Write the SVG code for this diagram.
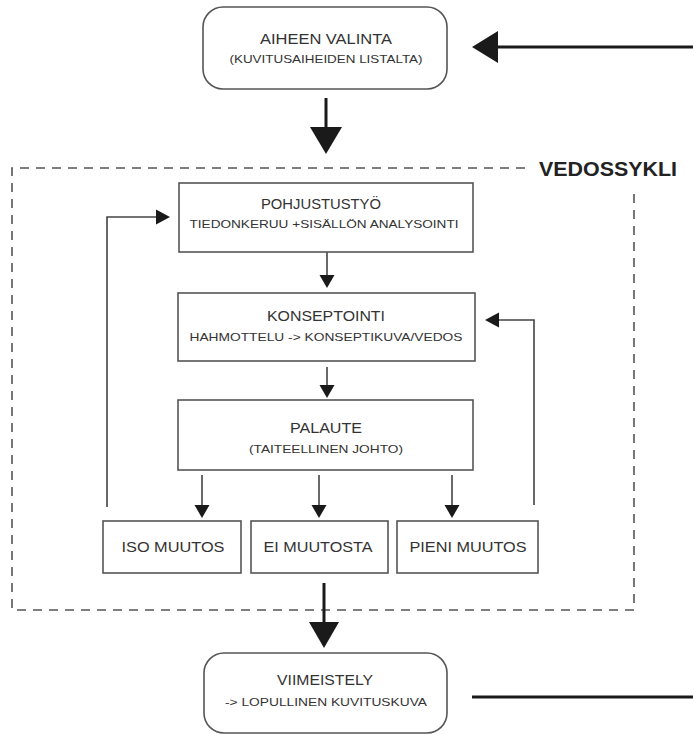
<svg xmlns="http://www.w3.org/2000/svg" width="693" height="734" viewBox="0 0 693 734">
<defs>
<style>
.box{fill:#fff;stroke:#555;stroke-width:1.6}
.t{font-family:"Liberation Sans",Arial,sans-serif;font-size:14.5px;fill:#333;text-anchor:middle}
.s{font-family:"Liberation Sans",Arial,sans-serif;font-size:11px;fill:#333;text-anchor:middle}
.thin{fill:none;stroke:#444;stroke-width:1.6}
.bold{fill:none;stroke:#1a1a1a;stroke-width:3}
.head{fill:#1a1a1a}
.dash{fill:none;stroke:#555;stroke-width:1.6;stroke-dasharray:9 7}
</style>
</defs>
<rect width="693" height="734" fill="#fff"/>
<g id="cycle">
<path class="dash" d="M525 168 H12 V610 H634 V192"/>
<text x="608" y="176" style="font-family:'Liberation Sans',Arial,sans-serif;font-size:21px;font-weight:bold;fill:#222;text-anchor:middle" textLength="138" lengthAdjust="spacingAndGlyphs">VEDOSSYKLI</text>
</g>
<g id="connectors">
<path class="bold" d="M693 47 H496"/>
<polygon class="head" points="472,47 498,31 498,63"/>
<path class="bold" d="M326 98 V130"/>
<polygon class="head" points="326,154 310,127 342,127"/>
<path class="bold" d="M324 583 V625"/>
<polygon class="head" points="324,648 309,622 339,622"/>
<path class="bold" d="M472 697 H693"/>
<path class="thin" d="M327 252 V276"/>
<polygon class="head" points="327,288 319.5,275 334.5,275"/>
<path class="thin" d="M327 367 V386"/>
<polygon class="head" points="327,398 319.5,385 334.5,385"/>
<path class="thin" d="M202 475 V506"/>
<polygon class="head" points="202,518 194.5,505 209.5,505"/>
<path class="thin" d="M319 475 V506"/>
<polygon class="head" points="319,518 311.5,505 326.5,505"/>
<path class="thin" d="M452 475 V506"/>
<polygon class="head" points="452,518 444.5,505 459.5,505"/>
<path class="thin" d="M107 507 V217 H158"/>
<polygon class="head" points="170,217 156,209.5 156,224.5"/>
<path class="thin" d="M534 505 V320 H497"/>
<polygon class="head" points="485,320 499,312.5 499,327.5"/>
</g>
<g id="aiheen">
<rect class="box" x="203" y="7" width="244" height="82" rx="20"/>
<text class="t" x="326" y="44" textLength="132" lengthAdjust="spacingAndGlyphs">AIHEEN VALINTA</text>
<text class="s" x="326" y="63" textLength="193" lengthAdjust="spacingAndGlyphs">(KUVITUSAIHEIDEN LISTALTA)</text>
</g>
<g id="pohjustus">
<rect class="box" x="179" y="183" width="294" height="69"/>
<text class="t" x="321" y="209" textLength="120" lengthAdjust="spacingAndGlyphs">POHJUSTUSTYÖ</text>
<text class="s" x="324" y="228" textLength="269" lengthAdjust="spacingAndGlyphs">TIEDONKERUU +SISÄLLÖN ANALYSOINTI</text>
</g>
<g id="konseptointi">
<rect class="box" x="178" y="293" width="297" height="68"/>
<text class="t" x="326" y="321" textLength="118" lengthAdjust="spacingAndGlyphs">KONSEPTOINTI</text>
<text class="s" x="326" y="341" textLength="273" lengthAdjust="spacingAndGlyphs">HAHMOTTELU -&gt; KONSEPTIKUVA/VEDOS</text>
</g>
<g id="palaute">
<rect class="box" x="178" y="400" width="295" height="70"/>
<text class="t" x="326" y="433" textLength="72" lengthAdjust="spacingAndGlyphs">PALAUTE</text>
<text class="s" x="326" y="453" textLength="154" lengthAdjust="spacingAndGlyphs">(TAITEELLINEN JOHTO)</text>
</g>
<g id="iso">
<rect class="box" x="103" y="521" width="138" height="52"/>
<text class="t" x="173" y="552" textLength="103" lengthAdjust="spacingAndGlyphs">ISO MUUTOS</text>
</g>
<g id="ei">
<rect class="box" x="251" y="521" width="137" height="52"/>
<text class="t" x="318" y="552" textLength="109" lengthAdjust="spacingAndGlyphs">EI MUUTOSTA</text>
</g>
<g id="pieni">
<rect class="box" x="397" y="521" width="141" height="52"/>
<text class="t" x="468" y="552" textLength="117" lengthAdjust="spacingAndGlyphs">PIENI MUUTOS</text>
</g>
<g id="viimeistely">
<rect class="box" x="204" y="653" width="243" height="80" rx="20"/>
<text class="t" x="325" y="685" textLength="96" lengthAdjust="spacingAndGlyphs">VIIMEISTELY</text>
<text class="s" x="326" y="706" textLength="202" lengthAdjust="spacingAndGlyphs">-&gt; LOPULLINEN KUVITUSKUVA</text>
</g>
</svg>
